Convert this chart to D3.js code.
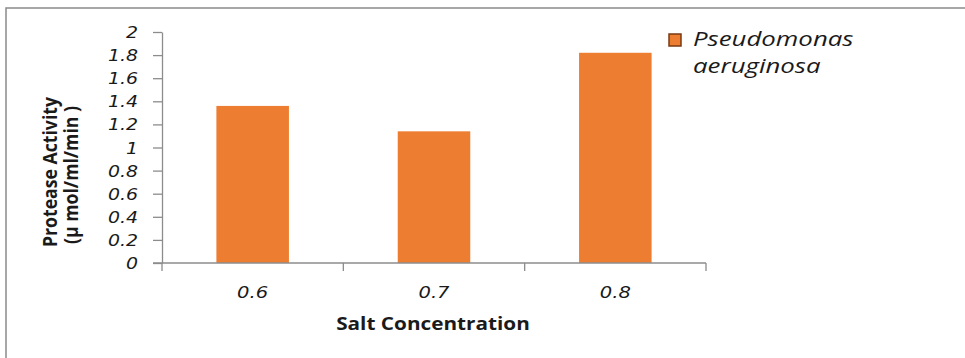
<!DOCTYPE html>
<html lang="en">
<head>
<meta charset="UTF-8">
<title>Protease activity vs salt concentration</title>
<script src="https://cdn.jsdelivr.net/npm/d3@7"></script>
<style>
  body { margin: 0; background: #fff; }
  svg text { fill: #1a1a1a; }
</style>
</head>
<body>
<script>
// chart data
var categories = ["0.6", "0.7", "0.8"];
var activity = [1.36, 1.14, 1.82];
var yTicks = [0, 0.2, 0.4, 0.6, 0.8, 1, 1.2, 1.4, 1.6, 1.8, 2];
var seriesName = ["Pseudomonas", "aeruginosa"];

var w = 965, h = 358;
var SX = 1.22; // the picture is stretched sideways, so text is too

var svg = d3.select("body").append("svg")
  .attr("width", w)
  .attr("height", h);

// outer frame (top + left only)
svg.append("path")
  .attr("d", "M6,358V8H965")
  .attr("fill", "none")
  .attr("stroke", "#8a8a8a")
  .attr("stroke-width", 1.5);

var plotL = 162, plotR = 706, plotT = 32, plotB = 263;

var x = d3.scaleBand()
  .domain(categories)
  .range([plotL, plotR])
  .paddingInner(0.6)
  .paddingOuter(0.3);

var y = d3.scaleLinear()
  .domain([0, 2])
  .range([plotB, plotT]);

function stretch(sel, k) {
  k = k || SX;
  sel.each(function() {
    var tw = this.getComputedTextLength();
    d3.select(this)
      .attr("textLength", tw * k)
      .attr("lengthAdjust", "spacingAndGlyphs");
  });
}

// bars
svg.selectAll("rect.bar")
  .data(activity)
  .enter()
  .append("rect")
  .attr("class", "bar")
  .attr("x", function(d, i) { return x(categories[i]); })
  .attr("width", x.bandwidth())
  .attr("y", function(d) { return y(d); })
  .attr("height", function(d) { return y(0) - y(d); })
  .attr("fill", "#ed7d31");

// y axis
var yAxis = d3.axisLeft(y)
  .tickValues(yTicks)
  .tickSize(9)
  .tickSizeOuter(0)
  .tickPadding(15)
  .tickFormat(d3.format("~g"));

var gy = svg.append("g")
  .attr("transform", "translate(" + plotL + ",0)")
  .call(yAxis);
gy.select(".domain").attr("stroke", "#8c8c8c").attr("stroke-width", 1.3);
gy.selectAll(".tick line").attr("stroke", "#8c8c8c").attr("stroke-width", 1.3);
gy.selectAll(".tick text")
  .attr("font-family", "DejaVu Sans")
  .attr("font-style", "italic")
  .attr("font-size", 15.5)
  .attr("fill", "#1a1a1a")
  .attr("dy", "0.36em")
  .call(stretch);

// x axis: line plus category-boundary ticks
var step = x.step();
var bounds = categories.map(function(c) { return x(c) - step * x.paddingOuter(); });
bounds.push(plotR);

svg.append("line")
  .attr("x1", plotL - 9).attr("x2", plotR)
  .attr("y1", y(0)).attr("y2", y(0))
  .attr("stroke", "#8c8c8c")
  .attr("stroke-width", 1.3);

svg.selectAll("line.xtick")
  .data(bounds)
  .enter()
  .append("line")
  .attr("class", "xtick")
  .attr("x1", function(d) { return d; })
  .attr("x2", function(d) { return d; })
  .attr("y1", y(0))
  .attr("y2", y(0) + 8)
  .attr("stroke", "#8c8c8c")
  .attr("stroke-width", 1.3);

svg.selectAll("text.xlab")
  .data(categories)
  .enter()
  .append("text")
  .attr("class", "xlab")
  .attr("x", function(d) { return x(d) + x.bandwidth() / 2; })
  .attr("y", 298)
  .attr("text-anchor", "middle")
  .attr("font-family", "DejaVu Sans")
  .attr("font-style", "italic")
  .attr("font-size", 16)
  .text(function(d) { return d; })
  .call(stretch);

// axis titles
svg.append("text")
  .attr("x", 433)
  .attr("y", 330)
  .attr("text-anchor", "middle")
  .attr("font-family", "Open Sans")
  .attr("font-weight", "bold")
  .attr("font-size", 17)
  .text("Salt Concentration")
  .call(stretch);

var yTitle = svg.append("g")
  .attr("font-family", "Open Sans")
  .attr("font-weight", "bold")
  .attr("font-size", 20)
  .attr("text-anchor", "middle");
yTitle.append("text")
  .attr("transform", "translate(57,172) rotate(-90)")
  .attr("textLength", 150)
  .attr("lengthAdjust", "spacingAndGlyphs")
  .text("Protease Activity");
yTitle.append("text")
  .attr("transform", "translate(78,175) rotate(-90)")
  .attr("textLength", 138)
  .attr("lengthAdjust", "spacingAndGlyphs")
  .text("(\u00b5 mol/ml/min )");

// legend
svg.append("rect")
  .attr("x", 669).attr("y", 34)
  .attr("width", 12).attr("height", 12)
  .attr("fill", "#ed7d31")
  .attr("stroke", "#7a3a10")
  .attr("stroke-width", 1.5);

svg.selectAll("text.leg")
  .data(seriesName)
  .enter()
  .append("text")
  .attr("class", "leg")
  .attr("x", 693)
  .attr("y", function(d, i) { return 46 + i * 27; })
  .attr("font-family", "Open Sans")
  .attr("font-style", "italic")
  .attr("font-size", 20)
  .text(function(d) { return d; })
  .call(stretch, 1.29);
</script>
</body>
</html>
